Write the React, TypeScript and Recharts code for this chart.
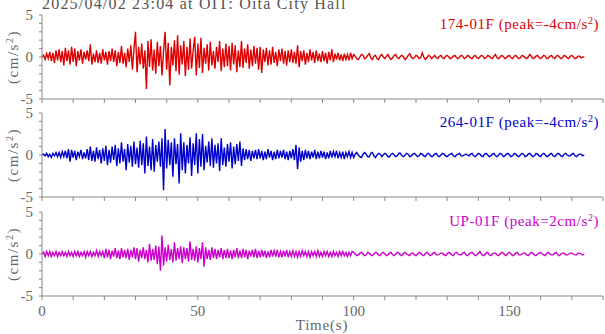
import { LineChart, Line, XAxis, YAxis } from 'recharts'

// sampling step of the records (s)
const DT = 0.5

const X_TICKS = [0, 10, 20, 30, 40, 50, 60, 70, 80, 90, 100, 110, 120, 130, 140, 150, 160, 170, 180]
const X_LABELS = [0, 50, 100, 150]
const Y_TICKS = [-5, -4, -3, -2, -1, 0, 1, 2, 3, 4, 5]
const Y_LABELS = [-5, 0, 5]

// 174-01F (cm/s2), one line = 10 s
const NS = [
  0, 0.2, -0.3, 0.4, -0.2, 0.6, -0.5, 0.5, -0.7, 0.8, -0.4, 0.9, -0.6, 0.7, -1.0, 1.1, -0.5, 0.8, -0.9, 1.2,
  -0.6, 1.0, -1.1, 0.7, -0.4, 0.9, -0.8, 0.6, -0.3, 0.8, -0.5, 1.5, -0.9, 0.4, -0.6, 0.8, -0.7, 0.5, -0.8, 0.9,
  -0.4, 0.6, -0.9, 0.7, -0.5, 1.0, -0.6, 0.8, -1.1, 0.6, -0.7, 1.3, -0.8, 0.5, -1.2, 1.0, -0.6, 1.4, -1.5, 0.9,
  3.0, -1.8, 1.2, -0.9, 1.6, -1.4, 0.8, -3.8, 1.9, -1.2, 2.1, -1.6, 0.9, -2.0, 1.8, -1.1, 1.3, -2.2, 0.7, 3.0,
  -1.5, 1.7, -3.4, 1.2, -1.0, 2.0, -1.7, 2.6, -2.1, 1.4, -0.9, 1.9, -2.3, 1.2, -1.5, 2.2, -1.4, 0.8, 2.4, -2.2,
  1.6, -1.3, 2.3, -1.9, 1.1, -0.8, 1.5, -1.6, 1.8, -1.0, 0.7, -1.4, 1.2, -0.6, 1.9, -1.7, 1.0, -1.2, 1.6, -1.1,
  1.3, -1.6, 1.7, -0.9, 1.4, -1.8, 0.8, -1.2, 1.9, -1.3, 1.0, -0.7, 1.5, -1.4, 0.9, -1.1, 1.3, -0.8, 1.1, -1.5,
  1.2, -1.9, 0.9, -0.6, 1.1, -1.0, 0.8, -0.9, 1.2, -0.7, 0.6, -1.1, 0.9, -0.5, 1.0, -0.8, 0.7, -1.0, 0.8, -0.6,
  0.9, -0.7, 0.6, -0.8, 1.4, -1.2, 0.7, -0.5, 0.8, -0.9, 0.5, -0.6, 0.9, -0.4, 0.6, -0.7, 0.8, -0.5, 0.4, -0.6,
  0.7, -0.5, 0.5, -0.8, 0.6, -0.4, 0.9, -0.6, 0.4, -0.3, 0.5, -0.4, 0.3, -0.5, 0.4, -0.3, 0.3, -0.4, 0.5, -0.2,
  0.3, 0.1, -0.2, -0.3, 0.0, 0.3, 0.2, -0.2, -0.1, 0.2, 0.4, -0.1, -0.3, 0.1, 0.2, -0.2, -0.3, 0.1, 0.3, 0.0,
  -0.2, 0.1, 0.3, -0.1, -0.3, -0.1, 0.2, 0.3, -0.1, -0.2, 0.1, 0.2, 0.0, -0.3, -0.1, 0.2, 0.4, 0.0, -0.2, -0.1,
  0.2, 0.1, -0.2, -0.1, 0.5, 0.0, -0.3, -0.1, 0.2, 0.1, -0.2, 0.0, 0.2, -0.1, -0.2, 0.1, 0.2, -0.1, -0.2, 0.1,
  0.2, 0.0, -0.2, -0.1, 0.1, 0.2, -0.1, -0.2, 0.0, 0.2, 0.1, -0.2, -0.1, 0.2, 0.1, -0.1, -0.2, 0.1, 0.2, -0.1,
  -0.2, 0.0, 0.2, 0.1, -0.2, -0.1, 0.2, 0.1, -0.1, -0.2, 0.1, 0.3, -0.1, -0.2, 0.0, 0.2, 0.1, -0.2, -0.1, 0.1,
  0.2, -0.1, -0.2, 0.1, 0.2, 0.0, -0.2, -0.1, 0.2, 0.1, -0.1, -0.2, 0.0, 0.3, 0.1, -0.2, -0.1, 0.1, 0.2, -0.1,
  -0.2, 0.0, 0.2, 0.1, -0.2, -0.1, 0.1, 0.2, -0.1, -0.2, 0.1, 0.2, 0.0, -0.2, -0.1, 0.2, 0.1, -0.1, -0.2, 0.1,
  0.2, 0.0, -0.2, -0.1, 0.1, 0.1, -0.1, 0.0, 0,
]

// 264-01F
const EW = [
  0, 0.1, -0.1, 0.2, -0.2, 0.1, -0.3, 0.2, -0.1, 0.3, -0.2, 0.3, -0.3, 0.4, -0.2, 0.5, -0.4, 0.7, -0.8, 0.6,
  -0.3, 0.5, -0.6, 0.4, -0.2, 0.6, -0.5, 0.3, -0.4, 0.7, -0.6, 1.0, -0.7, 0.5, -0.8, 0.9, -0.5, 0.6, -1.0, 0.8,
  -0.7, 1.1, -1.2, 0.6, -0.9, 1.0, -0.6, 1.2, -1.3, 0.8, -1.0, 1.5, -0.8, 0.7, -1.8, 1.3, -0.9, 1.1, -1.4, 1.6,
  -1.1, 0.9, -1.5, 1.7, -1.2, 1.4, -2.2, 2.2, -1.3, 1.0, -1.8, 1.9, -2.0, 1.2, -0.8, 1.6, -1.4, 2.0, -4.2, 3.1,
  -1.6, 1.8, -1.2, 1.5, -2.6, 2.0, -1.1, 1.3, -3.4, 2.6, -1.8, 1.5, -2.2, 1.2, -1.0, 2.1, -2.5, 1.4, -1.2, 2.6,
  -2.2, 1.9, -1.4, 2.5, -1.8, 1.1, -0.9, 1.6, -1.3, 2.0, -1.5, 1.2, -1.0, 1.4, -1.9, 2.0, -1.2, 0.9, -1.4, 1.3,
  -0.8, 1.5, -1.6, 1.0, -1.1, 1.3, -0.7, 1.6, -1.3, 0.8, -0.6, 0.7, -0.5, 0.6, -0.7, 0.5, -0.4, 0.6, -0.5, 0.7,
  -0.4, 0.5, -0.6, 0.4, -0.5, 0.7, -0.3, 0.5, -0.6, 0.4, -0.5, 0.6, -0.4, 0.5, -0.3, 0.6, -0.5, 0.4, -0.6, 0.5,
  -0.4, 0.7, -0.6, 1.2, -1.7, 0.9, -0.8, 0.5, -0.6, 0.6, -0.4, 0.5, -0.5, 0.4, -0.3, 0.6, -0.5, 0.4, -0.4, 0.5,
  -0.3, 0.4, -0.5, 0.3, -0.4, 0.5, -0.3, 0.4, -0.2, 0.5, -0.4, 0.3, -0.3, 0.4, -0.5, 0.3, -0.2, 0.4, -0.3, 0.3,
  -0.3, 0.1, 0.3, 0.0, -0.2, -0.3, 0.1, 0.3, 0.1, -0.2, -0.2, 0.2, 0.3, -0.1, -0.3, 0.0, 0.2, 0.1, -0.2, 0.0,
  0.2, 0.1, -0.2, -0.2, 0.1, 0.2, 0.0, -0.2, -0.1, 0.2, 0.2, -0.1, -0.2, 0.0, 0.2, 0.1, -0.2, -0.1, 0.1, 0.2,
  0.0, -0.2, -0.1, 0.2, 0.1, -0.1, -0.2, 0.1, 0.2, 0.0, -0.2, -0.1, 0.1, 0.2, -0.1, -0.2, 0.0, 0.2, 0.1, -0.1,
  -0.2, 0.0, 0.1, 0.2, -0.1, -0.2, 0.0, 0.1, 0.2, -0.1, -0.1, 0.0, 0.1, 0.0, -0.1, 0.1, 0.2, -0.1, -0.2, 0.0,
  0.2, 0.1, -0.1, -0.2, 0.1, 0.2, 0.0, -0.2, -0.1, 0.1, 0.2, -0.1, -0.2, 0.0, 0.2, 0.1, -0.2, -0.1, 0.1, 0.2,
  0.0, -0.2, -0.1, 0.2, 0.1, -0.1, -0.2, 0.0, 0.2, 0.1, -0.2, -0.1, 0.1, 0.2, 0.0, -0.2, -0.1, 0.2, 0.1, -0.1,
  -0.2, 0.1, 0.2, 0.0, -0.2, -0.1, 0.1, 0.2, -0.1, -0.2, 0.0, 0.2, 0.1, -0.1, -0.2, 0.1, 0.2, 0.0, -0.1, -0.1,
  0.1, 0.2, -0.1, -0.2, 0.0, 0.1, 0.1, -0.1, 0,
]

// UP-01F
const UD = [
  0, 0.2, -0.3, 0.3, -0.2, 0.3, -0.3, 0.2, -0.2, 0.3, -0.3, 0.2, -0.2, 0.3, -0.2, 0.2, -0.3, 0.3, -0.2, 0.2,
  -0.3, 0.3, -0.2, 0.3, -0.3, 0.2, -0.2, 0.3, -0.4, 0.3, -0.2, 0.3, -0.3, 0.2, -0.2, 0.4, -0.3, 0.3, -0.2, 0.3,
  -0.5, 0.6, -0.4, 0.5, -0.6, 0.4, -0.3, 0.7, -0.5, 0.4, -0.6, 0.7, -0.4, 0.5, -0.5, 0.6, -0.7, 0.5, -0.4, 0.8,
  -0.6, 0.7, -0.9, 0.5, -0.5, 0.8, -0.6, 0.5, -1.0, 1.2, -0.8, 0.6, -0.7, 1.0, -1.2, 0.9, -2.0, 2.2, -1.4, 0.8,
  -0.9, 1.1, -0.7, 0.6, -1.0, 1.4, -0.8, 0.7, -0.6, 0.9, -1.1, 0.8, -0.6, 0.7, -0.9, 1.5, -0.7, 0.6, -0.8, 0.9,
  -1.0, 0.7, -0.6, 1.4, -1.5, 0.8, -0.6, 0.5, -0.7, 0.8, -0.5, 0.6, -0.6, 0.5, -0.4, 0.7, -0.6, 0.5, -0.5, 0.6,
  -0.5, 0.4, -0.6, 0.5, -0.4, 0.7, -0.5, 0.4, -0.5, 0.6, -0.4, 0.5, -0.6, 0.4, -0.3, 0.5, -0.4, 0.6, -0.5, 0.4,
  -0.4, 0.5, -0.3, 0.4, -0.5, 0.3, -0.4, 0.5, -0.3, 0.4, -0.3, 0.5, -0.4, 0.3, -0.4, 0.4, -0.3, 0.5, -0.4, 0.3,
  -0.3, 0.4, -0.3, 0.3, -0.4, 0.3, -0.3, 0.4, -0.2, 0.3, -0.3, 0.3, -0.4, 0.3, -0.2, 0.3, -0.3, 0.4, -0.3, 0.2,
  -0.3, 0.3, -0.2, 0.3, -0.3, 0.2, -0.3, 0.3, -0.2, 0.2, -0.3, 0.3, -0.2, 0.3, -0.2, 0.2, -0.3, 0.2, -0.2, 0.3,
  0.2, 0.0, -0.2, -0.1, 0.1, 0.2, 0.0, -0.2, -0.1, 0.2, 0.1, -0.1, -0.2, 0.0, 0.2, 0.1, -0.1, -0.2, 0.1, 0.2,
  0.0, -0.2, -0.1, 0.1, 0.2, -0.1, -0.2, 0.0, 0.2, 0.1, -0.1, -0.2, 0.1, 0.2, 0.0, -0.1, -0.2, 0.1, 0.1, -0.1,
  -0.2, 0.0, 0.2, 0.1, -0.1, -0.2, 0.1, 0.2, 0.0, -0.2, -0.1, 0.1, 0.2, -0.1, -0.1, 0.0, 0.1, 0.1, -0.1, -0.2,
  0.0, 0.2, 0.1, -0.1, -0.2, 0.1, 0.2, 0.0, -0.1, -0.1, 0.1, 0.2, -0.1, -0.2, 0.0, 0.1, 0.2, 0.0, -0.2, -0.1,
  0.1, 0.3, 0.0, -0.2, -0.1, 0.1, 0.2, -0.1, -0.2, 0.0, 0.1, 0.1, -0.1, -0.2, 0.0, 0.2, 0.1, -0.1, -0.2, 0.1,
  0.2, 0.0, -0.2, -0.1, 0.1, 0.2, -0.1, -0.1, 0.0, 0.1, 0.1, -0.1, -0.2, 0.0, 0.2, 0.1, -0.1, -0.2, 0.0, 0.1,
  0.2, 0.0, -0.1, -0.2, 0.1, 0.2, 0.0, -0.1, -0.1, 0.1, 0.2, -0.1, -0.2, 0.0, 0.1, 0.1, -0.1, -0.1, 0.0, 0.1,
  0.1, 0.0, -0.1, -0.1, 0.1, 0.1, 0.0, -0.1, 0,
]

const TITLE = '2025/04/02 23:04 at OIT: Oita City Hall'

const PANELS = [
  { name: '174-01F', peak: '-4', values: NS, color: '#dd0000', top: 15 },
  { name: '264-01F', peak: '-4', values: EW, color: '#0000cc', top: 113 },
  { name: 'UP-01F', peak: '2', values: UD, color: '#cc00cc', top: 212 },
]

const PLOT_H = 84
const PAD = 12
const FONT = '"Liberation Serif", "Times New Roman", serif'
const AXIS = '#888'
const TEXT = '#666'

const YTick = ({ x, y, payload }: any) => {
  if (!Y_LABELS.includes(payload.value)) return null
  return (
    <text x={x} y={y} dy={5} textAnchor="end" fontSize={15} fontFamily={FONT} fill={TEXT}>
      {payload.value}
    </text>
  )
}

const makeXTick = (show: boolean) => ({ x, y, payload }: any) => {
  if (!show || !X_LABELS.includes(payload.value)) return null
  return (
    <text x={x} y={y} dy={14} textAnchor="middle" fontSize={15} fontFamily={FONT} fill={TEXT}>
      {payload.value}
    </text>
  )
}

function Panel({ p, last }: { p: typeof PANELS[number]; last: boolean }) {
  const data = p.values.map((v, i) => ({ t: i * DT, v }))
  return (
    <div style={{ position: 'absolute', left: 0, top: p.top - PAD }}>
      <LineChart width={605} height={PLOT_H + PAD + 30} data={data}
        margin={{ top: PAD, right: 2, left: 0, bottom: 0 }}>
        <XAxis dataKey="t" type="number" domain={[0, 180]} ticks={X_TICKS} interval={0}
          height={30} tickSize={4} stroke={AXIS} tick={makeXTick(last)} />
        <XAxis xAxisId="top" dataKey="t" type="number" domain={[0, 180]} orientation="top"
          height={0} tick={false} tickLine={false} stroke={AXIS} />
        <YAxis type="number" domain={[-5, 5]} ticks={Y_TICKS} interval={0} width={42}
          tickSize={3} tickMargin={6} stroke={AXIS} tick={<YTick />} />
        <YAxis yAxisId="right" type="number" domain={[-5, 5]} orientation="right"
          width={0} tick={false} tickLine={false} stroke={AXIS} />
        <Line dataKey="v" stroke={p.color} strokeWidth={1.4} dot={false}
          isAnimationActive={false} />
      </LineChart>
    </div>
  )
}

export default function App() {
  return (
    <div style={{ position: 'absolute', left: 0, top: 0, width: 605, height: 334, background: '#fff' }}>
      {PANELS.map((p, i) => <Panel key={p.name} p={p} last={i === PANELS.length - 1} />)}
      <svg width={605} height={334} style={{ position: 'absolute', left: 0, top: 0, pointerEvents: 'none' }}
        fontFamily={FONT}>
        <text x={42} y={9} fontSize={16} letterSpacing={1.2} fill="#555">{TITLE}</text>
        {PANELS.map(p => (
          <g key={p.name}>
            <text x={599} y={p.top + 14} textAnchor="end" fontSize={15} letterSpacing={0.55} fill={p.color}>
              {`${p.name} (peak=${p.peak}cm/s`}
              <tspan dy={-5} fontSize={10}>2</tspan>
              <tspan dy={5}>)</tspan>
            </text>
            <text transform={`translate(18, ${p.top + PLOT_H / 2}) rotate(-90)`} textAnchor="middle"
              fontSize={15} letterSpacing={1.5} fill={TEXT}>
              (cm/s<tspan dy={-5} fontSize={10}>2</tspan><tspan dy={5}>)</tspan>
            </text>
          </g>
        ))}
        <text x={322} y={330} textAnchor="middle" fontSize={15} letterSpacing={0.8} fill={TEXT}>Time(s)</text>
      </svg>
    </div>
  )
}
